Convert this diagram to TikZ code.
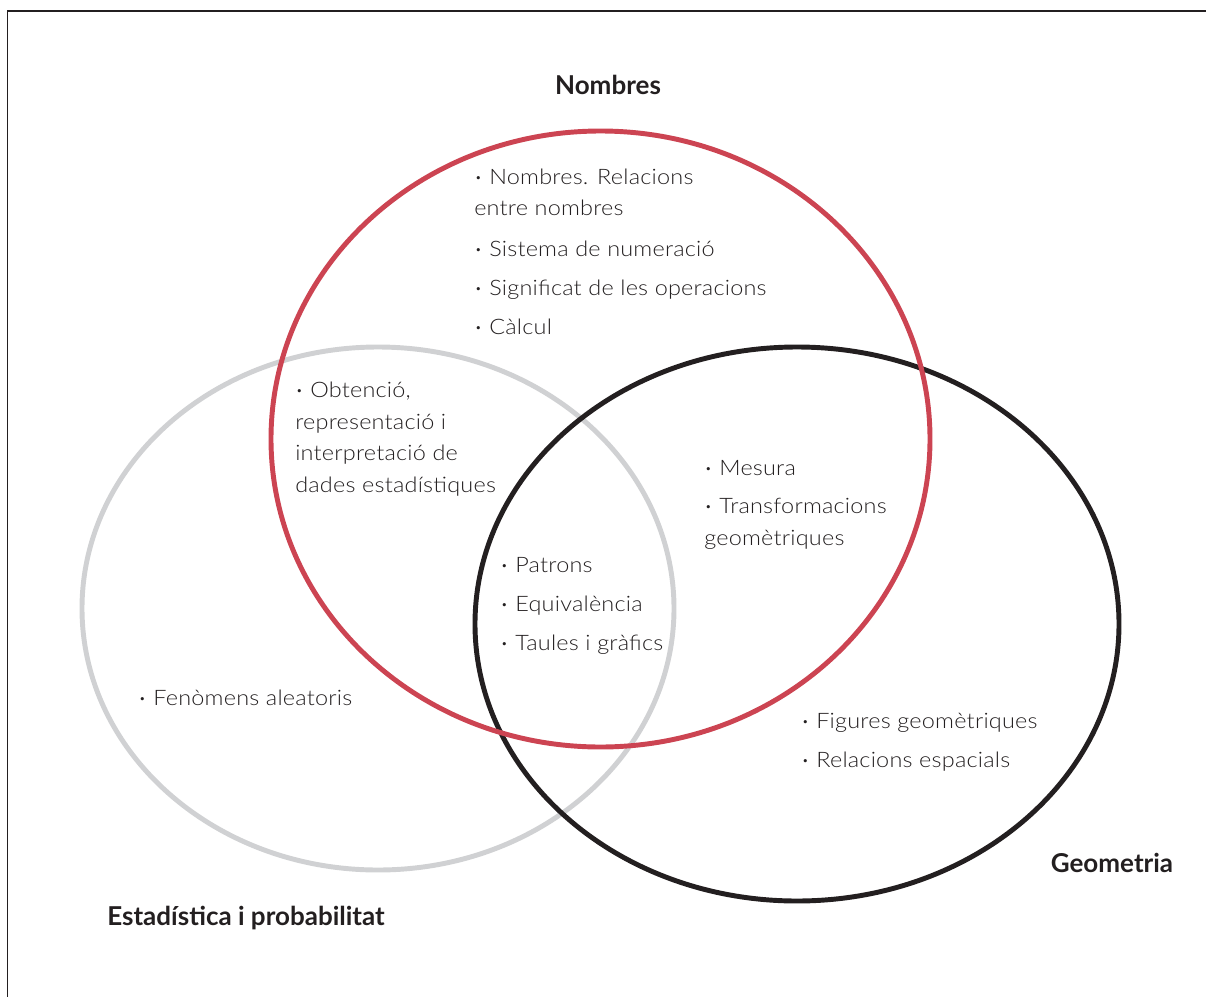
\documentclass[tikz,border=0pt]{standalone}
\usepackage{fontspec}
\setmainfont{Lato}[UprightFont={* Light},BoldFont={* Bold}]
\newfontfamily\bodyfont{Lato}[UprightFont={* Light},FakeStretch=1.1,LetterSpace=1]
\newfontfamily\dotfont{Lato}[UprightFont={* Regular}]
\definecolor{ink}{HTML}{231F20}
\definecolor{ringred}{HTML}{CC4452}
\definecolor{ringgray}{HTML}{D0D1D3}
\definecolor{ringblack}{HTML}{231F20}
\newcommand\bul{\makebox[11.3pt][l]{\hspace{1pt}{\dotfont ·}}}
\tikzset{
  ring/.style={line width=3.7pt},
  item/.style={anchor=base west, inner sep=0pt, text=ink, font=\bodyfont\fontsize{16}{19}\selectfont},
  ttl/.style={anchor=base, inner sep=0pt, text=ink, font=\fontsize{19.5}{22}\selectfont\bfseries},
}
\begin{document}
\begin{tikzpicture}[x=0.75pt,y=-0.75pt]
\useasboundingbox (0,0) rectangle (1206,996);
\draw[line width=1.3pt, ink] (7.5,1000) -- (7.5,11) -- (1210,11);
% rings
\draw[ring, ringgray] (378,608.5) ellipse [x radius=296, y radius=261.5];
\draw[ring, ringblack] (797,624) ellipse [x radius=322, y radius=277];
\draw[ring, ringred] (600.5,439) ellipse [x radius=329.5, y radius=308];
% titles
\node[ttl] (tnom) at (608,94) {Nombres};
\node[ttl] (tgeo) at (1112,872) {Geometria};
\node[ttl] (test) at (246,925) {Estadística i probabilitat};
% Nombres only
\node[item] (n1) at (474,184) {\bul Nombres. Relacions};
\node[item] (n1b) at (474,215) {entre nombres};
\node[item] (n2) at (474,256) {\bul Sistema de numeració};
\node[item] (n3) at (474,295) {\bul Significat de les operacions};
\node[item] (n4) at (474,334) {\bul Càlcul};
% Nombres + Estadistica
\node[item] (s1) at (295,397) {\bul Obtenció,};
\node[item] (s1b) at (295,429) {representació i};
\node[item] (s1c) at (295,460) {interpretació de};
\node[item] (s1d) at (295,492) {dades estadístiques};
% Estadistica only
\node[item] (e1) at (138,705) {\bul Fenòmens aleatoris};
% center
\node[item] (c1) at (500,572) {\bul Patrons};
\node[item] (c2) at (500,611) {\bul Equivalència};
\node[item] (c3) at (500,650) {\bul Taules i gràfics};
% Nombres + Geometria
\node[item] (g1) at (704,475) {\bul Mesura};
\node[item] (g2) at (704,513) {\bul Transformacions};
\node[item] (g2b) at (704,545) {geomètriques};
% Geometria only
\node[item] (h1) at (801,728) {\bul Figures geomètriques};
\node[item] (h2) at (801,767) {\bul Relacions espacials};
\end{tikzpicture}
\end{document}
